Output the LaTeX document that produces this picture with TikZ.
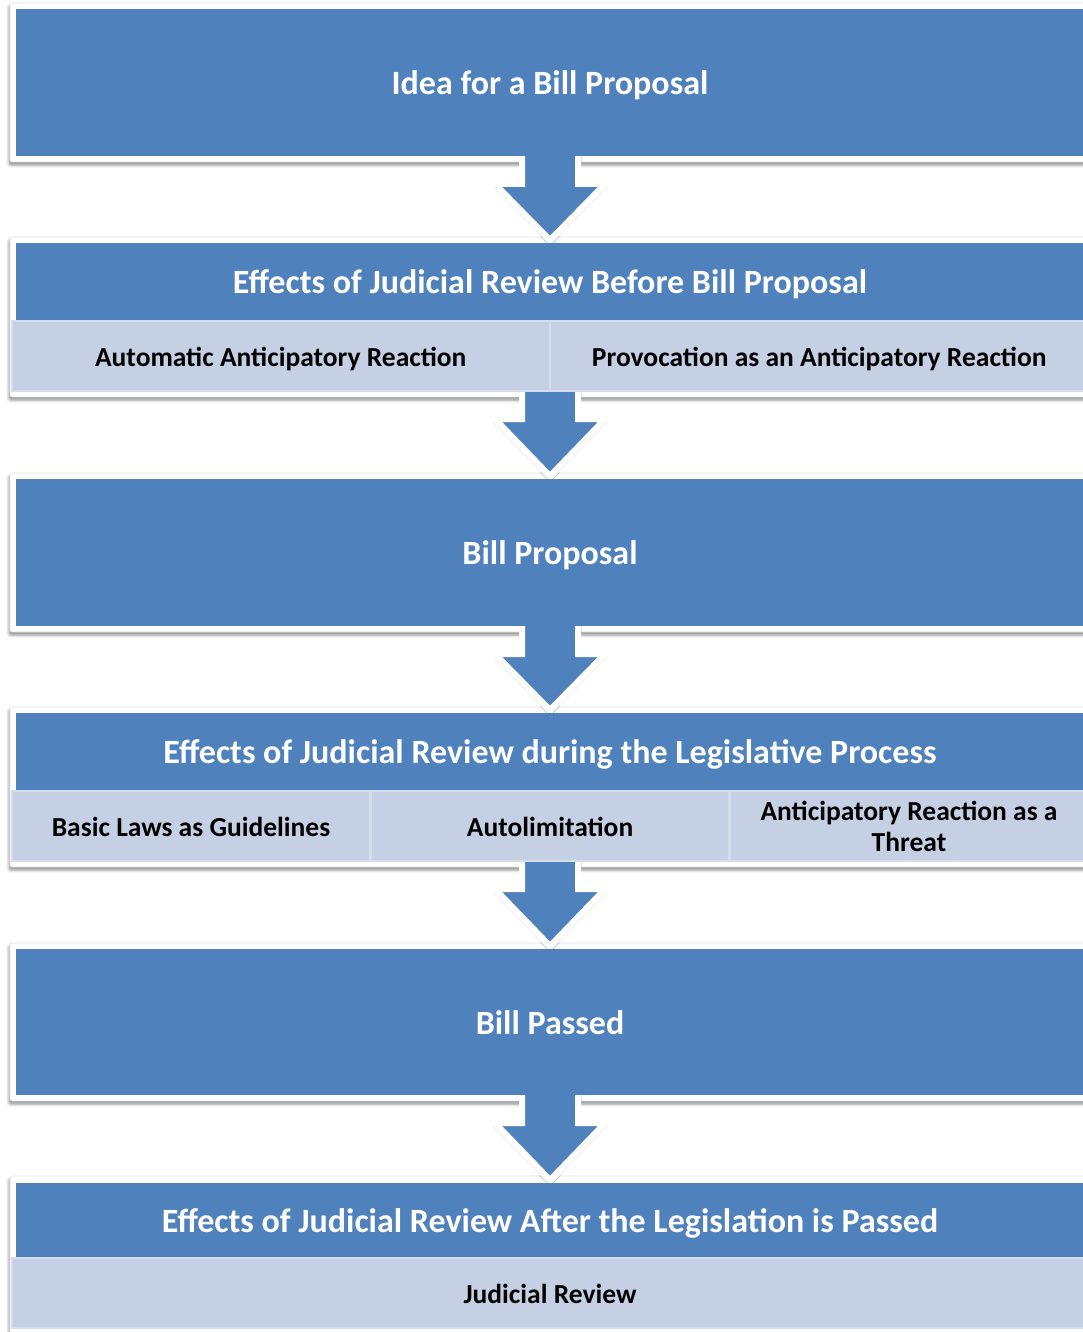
\documentclass[tikz,border=0pt]{standalone}
\usepackage{fontspec}
\setmainfont{Carlito}
\usetikzlibrary{calc,shadows.blur}
\definecolor{boxblue}{RGB}{79,129,189}
\definecolor{lightblue}{RGB}{197,208,228}
\definecolor{cellline}{RGB}{212,221,236}
\newcommand\blockarrow[2]{%
  \path[arrowshape] let \p1=(#1.south), \p2=(#2.north) in
    (\x1-28pt,\y1+6pt) -- (\x1-28pt,\y1-28pt) -- (\x1-55pt,\y1-28pt) --
    (\x1,\y2+3pt) -- (\x1+55pt,\y1-28pt) -- (\x1+28pt,\y1-28pt) --
    (\x1+28pt,\y1+6pt) -- cycle;}
\begin{document}
\begin{tikzpicture}[x=1pt,y=-1pt,
  frame/.style={fill=white, draw=black!12, line width=0.6pt, rounded corners=2pt, inner sep=0,
    blur shadow={shadow xshift=-1pt, shadow yshift=-3pt, shadow blur radius=3pt, shadow opacity=45}},
  arrowshape/.style={fill=boxblue, draw=white, line width=6pt, line join=miter,
    blur shadow={shadow xshift=0pt, shadow yshift=-2pt, shadow blur radius=3pt, shadow opacity=40}},
  bluebox/.style={fill=boxblue, minimum width=1068pt, inner sep=0, text=white,
    text height=26pt, text depth=2pt,
    font=\bfseries\fontsize{34}{38}\selectfont},
  cell/.style={fill=lightblue, draw=cellline, line width=1.2pt, inner sep=0, align=center,
    minimum height=70pt, font=\bfseries\fontsize{27.5}{31}\selectfont},
  oneline/.style={text height=21pt, text depth=0pt}]
\useasboundingbox (0,0) rectangle (1083,1332);
% frames
\node[frame, minimum width=1085pt, minimum height=159pt] (f1) at (552.5,82.5) {};
\node[frame, minimum width=1085pt, minimum height=160pt] (f2) at (552.5,317) {};
\node[frame, minimum width=1085pt, minimum height=159pt] (f3) at (552.5,552.5) {};
\node[frame, minimum width=1085pt, minimum height=160pt] (f4) at (552.5,787) {};
\node[frame, minimum width=1085pt, minimum height=158pt] (f5) at (552.5,1022) {};
\node[frame, minimum width=1085pt, minimum height=160pt] (f6) at (552.5,1256) {};
% coordinates for arrows
\coordinate (a1s) at (550,156); \coordinate (a1e) at (550,243);
\coordinate (a2s) at (550,391); \coordinate (a2e) at (550,479);
\coordinate (a3s) at (550,626); \coordinate (a3e) at (550,713);
\coordinate (a4s) at (550,861); \coordinate (a4e) at (550,949);
\coordinate (a5s) at (550,1095); \coordinate (a5e) at (550,1183);
% arrows
\blockarrow{a1s}{a1e}
\blockarrow{a2s}{a2e}
\blockarrow{a3s}{a3e}
\blockarrow{a4s}{a4e}
\blockarrow{a5s}{a5e}
% boxes
\node[bluebox, minimum height=147pt] (b1) at (550,82.5) {Idea for a Bill Proposal};
\node[bluebox, minimum height=77pt] (b2) at (550,281.5) {Effects of Judicial Review Before Bill Proposal};
\node[cell, oneline, minimum width=537.5pt] (c21) at (280.75,356) {Automatic Anticipatory Reaction};
\node[cell, oneline, minimum width=537.5pt] (c22) at (819.25,356) {Provocation as an Anticipatory Reaction};
\node[bluebox, minimum height=147pt] (b3) at (550,552.5) {Bill Proposal};
\node[bluebox, minimum height=77pt] (b4) at (550,751.5) {Effects of Judicial Review during the Legislative Process};
\node[cell, oneline, minimum width=358pt] (c41) at (191,826) {Basic Laws as Guidelines};
\node[cell, oneline, minimum width=358pt] (c42) at (550,826) {Autolimitation};
\node[cell, minimum width=358pt] (c43) at (909,826) {Anticipatory Reaction as a\\Threat};
\node[bluebox, minimum height=146pt] (b5) at (550,1022) {Bill Passed};
\node[bluebox, minimum height=75pt] (b6) at (550,1220.5) {Effects of Judicial Review After the Legislation is Passed};
\node[cell, oneline, minimum width=1076pt] (c61) at (550,1293) {Judicial Review};
\end{tikzpicture}
\end{document}
